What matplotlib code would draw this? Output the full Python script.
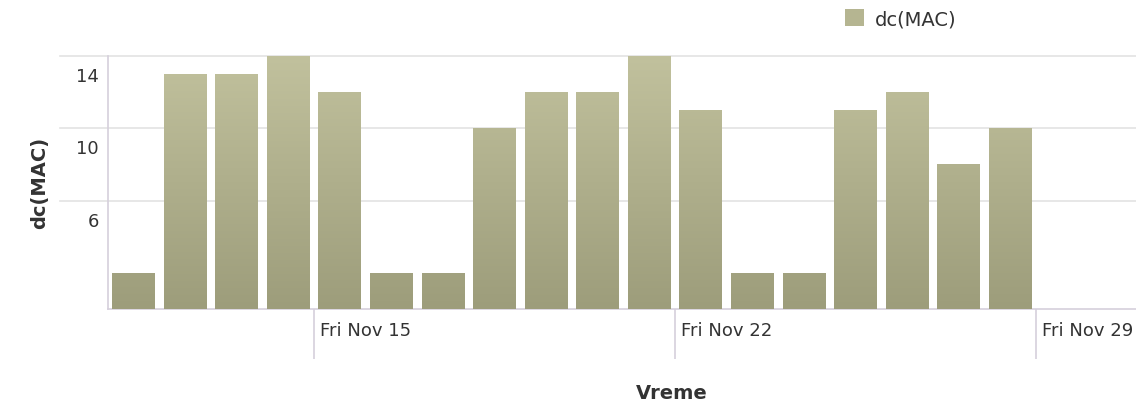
import numpy as np
import matplotlib
matplotlib.use("Agg")
import matplotlib.pyplot as plt
import matplotlib.dates as mdates
import matplotlib.transforms as mtrans
from matplotlib.patches import Patch
from matplotlib.colors import LinearSegmentedColormap

# ---- data ----
days = ["2013-11-11", "2013-11-12", "2013-11-13", "2013-11-14", "2013-11-15",
        "2013-11-16", "2013-11-17", "2013-11-18", "2013-11-19", "2013-11-20",
        "2013-11-21", "2013-11-22", "2013-11-23", "2013-11-24", "2013-11-25",
        "2013-11-26", "2013-11-27", "2013-11-28"]
values = [2, 13, 13, 14, 12, 2, 2, 10, 12, 12, 14, 11, 2, 2, 11, 12, 8, 10]
tick_days = ["2013-11-15", "2013-11-22", "2013-11-29"]
tick_labels = ["Fri Nov 15", "Fri Nov 22", "Fri Nov 29"]
y_ticks = [6, 10, 14]
y_tick_labels = ["6", "10", "14"]
series_name = "dc(MAC)"
x_title = "Vreme"
y_title = "dc(MAC)"

plt.rcParams['font.family'] = ['DejaVu Sans']

W, H = 1136, 406
fig = plt.figure(figsize=(W / 100, H / 100), dpi=100)
left_px, right_px, top_px, bottom_px = 108, 1136, 57, 310
ax = fig.add_axes([left_px / W, (H - bottom_px) / H,
                   (right_px - left_px) / W, (bottom_px - top_px) / H])

x = mdates.date2num(np.array(days, dtype="datetime64[D]"))
xt = mdates.date2num(np.array(tick_days, dtype="datetime64[D]"))

day_px = 51.57
x0 = x[0]
ax.set_xlim(x0, x0 + (right_px - left_px) / day_px)
ax.set_ylim(0, 14)

bar_col = "#b0b08c"
bars = ax.bar(x + 0.08, values, width=0.82, align="edge", color=bar_col,
              edgecolor="none", zorder=3)

cmap = LinearSegmentedColormap.from_list("g", ["#9d9d7b", "#c1c19d"])
grad = np.linspace(0, 1, 256).reshape(-1, 1)
for b in bars:
    bx = b.get_x()
    im = ax.imshow(grad, extent=[bx, bx + b.get_width(), 0, 14], origin="lower",
                   aspect="auto", cmap=cmap, zorder=4, interpolation="bilinear")
    im.set_clip_path(b)

# grid lines extending left of the axis
grid_col = "#e3e3e3"
ext = -(left_px - 60) / (right_px - left_px)
for yv in y_ticks:
    ax.axhline(yv, xmin=ext, xmax=1, color=grid_col, lw=1.2, clip_on=False, zorder=1)

# y tick labels (below gridlines)
off = mtrans.ScaledTranslation(-9 / 100, -20 / 100, fig.dpi_scale_trans)
for yv, lab in zip(y_ticks, y_tick_labels):
    ax.text(0, yv, lab, transform=ax.get_yaxis_transform() + off,
            ha="right", va="center", fontsize=13, color="#333333")
ax.set_yticks([])

# x ticks
spine_col = "#d5cfdc"
ax.set_xticks(xt)
ax.set_xticklabels([])
ax.tick_params(axis="x", length=36, width=1.2, color=spine_col, direction="out")
offx = mtrans.ScaledTranslation(6 / 100, -21 / 100, fig.dpi_scale_trans)
for tx, lab in zip(xt, tick_labels):
    ax.text(tx, 0, lab, transform=ax.get_xaxis_transform() + offx,
            ha="left", va="center", fontsize=13, color="#333333", clip_on=False)

for s in ["top", "right"]:
    ax.spines[s].set_visible(False)
for s in ["left", "bottom"]:
    ax.spines[s].set_color(spine_col)
    ax.spines[s].set_linewidth(1.2)

fig.text(40 / W, 1 - 183 / H, y_title, rotation=90, ha="center", va="center",
         fontsize=14, fontweight="bold", color="#333333")
fig.text(672 / W, 1 - 394 / H, x_title, ha="center", va="center",
         fontsize=14, fontweight="bold", color="#333333")

leg = fig.legend(handles=[Patch(facecolor="#b5b591", edgecolor="none")],
                 labels=[series_name], loc="upper left",
                 bbox_to_anchor=(845 / W, 1 - 10 / H), frameon=False,
                 handlelength=1.0, handleheight=1.0, handletextpad=0.55,
                 borderpad=0, borderaxespad=0, fontsize=14)
for t in leg.get_texts():
    t.set_color("#333333")

fig.savefig("out.png", dpi=100)
